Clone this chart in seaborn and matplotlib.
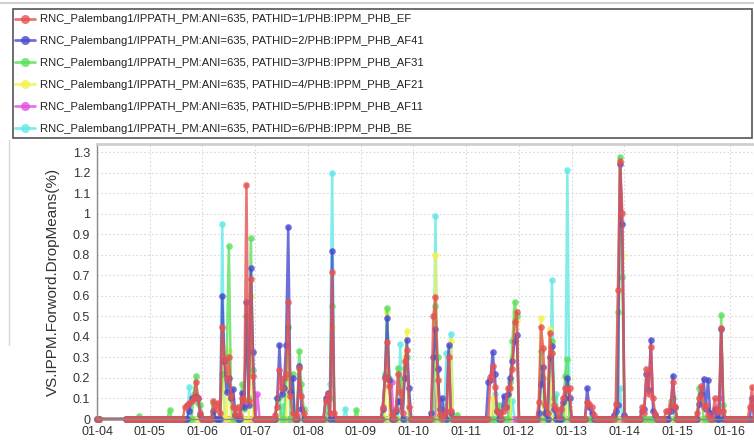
import matplotlib
matplotlib.use("Agg")
import matplotlib.pyplot as plt
import matplotlib.dates as mdates
from matplotlib.lines import Line2D
from matplotlib.patches import Rectangle
from matplotlib.ticker import FuncFormatter, MultipleLocator
import seaborn as sns
import pandas as pd
import numpy as np

# ---------------- data (hours since 01-04 00:00) ----------------
sample_hours = [0, 1] + list(range(13, 300))

series_names = [
    "RNC_Palembang1/IPPATH_PM:ANI=635, PATHID=1/PHB:IPPM_PHB_EF",
    "RNC_Palembang1/IPPATH_PM:ANI=635, PATHID=2/PHB:IPPM_PHB_AF41",
    "RNC_Palembang1/IPPATH_PM:ANI=635, PATHID=3/PHB:IPPM_PHB_AF31",
    "RNC_Palembang1/IPPATH_PM:ANI=635, PATHID=4/PHB:IPPM_PHB_AF21",
    "RNC_Palembang1/IPPATH_PM:ANI=635, PATHID=5/PHB:IPPM_PHB_AF11",
    "RNC_Palembang1/IPPATH_PM:ANI=635, PATHID=6/PHB:IPPM_PHB_BE",
]
series_colors = ["#e65252", "#4a4ad0", "#5ce05c", "#f2f24a", "#e252e2", "#62e8e8"]

# non-zero readings of each series (hour -> value); all other samples read 0
ef_hours = [40, 41, 42, 43, 44, 45, 46, 47, 53, 54, 55, 56, 57, 58, 59, 60, 61, 62, 63, 64, 65,
            66, 67, 68, 69, 70, 71, 81, 82, 83, 84, 85, 86, 87, 88, 89, 91, 92, 93, 94,
            104, 105, 106, 107, 108, 130, 131, 132, 133, 134, 136, 137, 138, 139, 140, 141, 142,
            153, 154, 155, 156, 158, 159, 160, 161, 179, 180, 181, 182, 183, 185, 186, 187, 188,
            189, 190, 191, 201, 202, 203, 204, 205, 206, 207, 208, 209, 210, 211, 212, 213, 214,
            215, 223, 224, 225, 226, 236, 237, 238, 239, 248, 249, 250, 251, 252, 253, 254,
            259, 260, 261, 262, 263, 273, 274, 275, 276, 277, 278, 281, 282, 283, 284, 285, 297, 298]
ef_values = [0.06, 0.07, 0.08, 0.09, 0.10, 0.18, 0.10, 0.03, 0.09, 0.05, 0.08, 0.03, 0.45, 0.29,
             0.195, 0.30, 0.11, 0.06, 0.02, 0.06, 0.02, 0.10, 0.09, 1.14, 0.09, 0.68, 0.21,
             0.02, 0.06, 0.24, 0.15, 0.20, 0.22, 0.57, 0.11, 0.03, 0.02, 0.25, 0.11, 0.03,
             0.09, 0.12, 0.03, 0.715, 0.03, 0.06, 0.20, 0.375, 0.16, 0.02, 0.05, 0.22, 0.13, 0.03,
             0.28, 0.335, 0.06, 0.50, 0.595, 0.19, 0.02, 0.02, 0.04, 0.30, 0.04, 0.205, 0.26,
             0.155, 0.04, 0.03, 0.04, 0.06, 0.15, 0.15, 0.245, 0.47, 0.52, 0.085, 0.45, 0.345,
             0.07, 0.03, 0.42, 0.32, 0.07, 0.05, 0.01, 0.05, 0.10, 0.15, 0.14, 0.15, 0.085, 0.075,
             0.06, 0.02, 0.075, 0.63, 1.258, 1.005, 0.06, 0.03, 0.245, 0.12, 0.35, 0.10, 0.025,
             0.04, 0.04, 0.07, 0.18, 0.06, 0.03, 0.10, 0.16, 0.06, 0.07, 0.02, 0.10, 0.04, 0.04,
             0.445, 0.04, 0.06, 0.155]

af41_hours = [42, 43, 44, 45, 46, 47, 53, 57, 58, 59, 60, 61, 62, 63, 66, 67, 68, 69, 70, 71,
              82, 83, 84, 85, 86, 87, 88, 89, 92, 93, 104, 105, 107, 130, 131, 132, 133, 136, 137,
              138, 140, 141, 142, 152, 153, 154, 155, 156, 157, 158, 160, 161, 178, 179, 180, 181,
              182, 185, 186, 187, 188, 189, 190, 191, 201, 202, 203, 204, 206, 207, 208, 212, 213,
              214, 215, 223, 224, 225, 235, 236, 237, 238, 239, 240, 248, 249, 250, 251, 252, 253,
              254, 261, 262, 263, 274, 275, 276, 277, 278, 279, 281, 284, 298]
af41_values = [0.04, 0.10, 0.10, 0.11, 0.10, 0.02, 0.04, 0.60, 0.28, 0.13, 0.20, 0.10, 0.145, 0.02,
               0.125, 0.06, 0.57, 0.07, 0.735, 0.325, 0.10, 0.36, 0.12, 0.15, 0.36, 0.935, 0.13,
               0.20, 0.26, 0.05, 0.10, 0.125, 0.82, 0.05, 0.205, 0.49, 0.19, 0.04, 0.09, 0.09,
               0.20, 0.385, 0.15, 0.03, 0.30, 0.44, 0.245, 0.05, 0.10, 0.03, 0.36, 0.03, 0.18,
               0.19, 0.325, 0.22, 0.04, 0.11, 0.06, 0.12, 0.20, 0.28, 0.38, 0.41, 0.03, 0.17,
               0.255, 0.03, 0.30, 0.355, 0.05, 0.085, 0.10, 0.20, 0.10, 0.15, 0.06, 0.03, 0.02,
               0.04, 0.07, 1.24, 0.95, 0.02, 0.04, 0.05, 0.22, 0.14, 0.385, 0.04, 0.02, 0.04,
               0.21, 0.06, 0.075, 0.12, 0.195, 0.05, 0.19, 0.03, 0.05, 0.44, 0.10]

af31_hours = [19, 33, 44, 45, 46, 47, 53, 57, 58, 59, 60, 61, 66, 67, 68, 69, 70, 71, 82, 83, 86,
              87, 89, 92, 93, 94, 105, 106, 107, 118, 131, 132, 133, 137, 138, 140, 141, 154, 155,
              164, 183, 188, 189, 190, 191, 202, 203, 206, 207, 208, 213, 214, 237, 238, 239, 261,
              262, 274, 275, 284, 285]
af31_values = [0.015, 0.045, 0.12, 0.21, 0.08, 0.07, 0.08, 0.22, 0.22, 0.30, 0.84, 0.10, 0.17,
               0.05, 0.50, 0.10, 0.88, 0.24, 0.10, 0.10, 0.20, 0.45, 0.22, 0.33, 0.17, 0.05, 0.10,
               0.10, 0.55, 0.045, 0.22, 0.54, 0.20, 0.25, 0.20, 0.25, 0.30, 0.55, 0.30, 0.02,
               0.07, 0.18, 0.38, 0.57, 0.50, 0.33, 0.20, 0.30, 0.38, 0.10, 0.21, 0.29, 0.52,
               1.277, 0.69, 0.09, 0.10, 0.15, 0.12, 0.505, 0.07]

af21_hours = [57, 60, 70, 87, 88, 107, 132, 140, 141, 154, 161, 180, 189, 190, 191, 202, 206,
              214, 238, 239]
af21_values = [0.35, 0.33, 0.60, 0.45, 0.15, 0.45, 0.52, 0.30, 0.43, 0.80, 0.38, 0.10, 0.30,
               0.52, 0.48, 0.49, 0.44, 0.20, 1.25, 0.80]

af11_hours = [73, 134, 155, 283]
af11_values = [0.12, 0.18, 0.25, 0.10]

be_hours = [42, 57, 84, 106, 107, 113, 138, 154, 159, 161, 181, 189, 204, 207, 209, 214, 238]
be_values = [0.155, 0.95, 0.065, 0.17, 1.20, 0.05, 0.365, 0.99, 0.32, 0.415, 0.12, 0.09, 0.10,
             0.675, 0.12, 1.21, 0.15]

series_readings = [(ef_hours, ef_values), (af41_hours, af41_values), (af31_hours, af31_values),
                   (af21_hours, af21_values), (af11_hours, af11_values), (be_hours, be_values)]

# ---------------- build long table ----------------
t0 = pd.Timestamp("2019-01-04 00:00")
rows = []
for name, (hrs, vals) in zip(series_names, series_readings):
    lookup = dict(zip(hrs, vals))
    for h in sample_hours:
        rows.append((name, t0 + pd.Timedelta(hours=h), lookup.get(h, 0.0)))
df = pd.DataFrame(rows, columns=["series", "time", "value"])

# ---------------- figure ----------------
sns.set_theme(style="white")
plt.rcParams["font.family"] = ["Liberation Sans", "DejaVu Sans"]

W, H = 754, 440
fig = plt.figure(figsize=(W / 100, H / 100), dpi=100)
ax_left, ax_right, ax_top, ax_bot = 97, 754, 144, 419
ax = fig.add_axes([ax_left / W, 1 - ax_bot / H, (ax_right - ax_left) / W, (ax_bot - ax_top) / H])

palette = dict(zip(series_names, series_colors))
sns.lineplot(data=df, x="time", y="value", hue="series", hue_order=series_names[::-1],
             palette=palette, marker="o", markersize=4.8, markeredgewidth=0, linewidth=1.8,
             alpha=0.8, estimator=None, errorbar=None, legend=False, ax=ax, clip_on=False)

ax.set_xlim(t0, t0 + pd.Timedelta(days=12.455))
ax.set_ylim(0, 1.339)
ax.yaxis.set_major_locator(MultipleLocator(0.1))
ax.yaxis.set_major_formatter(FuncFormatter(lambda v, p: f"{round(v, 2):g}"))
ax.xaxis.set_major_locator(mdates.DayLocator())
ax.xaxis.set_major_formatter(mdates.DateFormatter("%m-%d"))

ax.grid(True, color="#d8d8d8", linestyle=(0, (1.5, 2)), linewidth=0.8)
ax.set_axisbelow(True)
for s in ["left", "bottom"]:
    ax.spines[s].set_color("#8a8a8a")
    ax.spines[s].set_linewidth(1.0)
ax.spines["top"].set_color("#cfcfcf")
ax.spines["top"].set_linewidth(2.0)
ax.spines["right"].set_visible(False)

ax.tick_params(axis="both", labelsize=9, colors="#333333", length=2, pad=3)
ax.set_xlabel("")
ax.set_ylabel("VS.IPPM.Forword.DropMeans(%)", fontsize=11, color="#333333")
ax.yaxis.set_label_coords((60 - ax_left) / (ax_right - ax_left), 0.5)

# legend box (drawn separately) and frameless legend inside it
fig.add_artist(Rectangle((13 / W, 1 - 138 / H), (752 - 13) / W, (138 - 9) / H,
                         transform=fig.transFigure, facecolor="white",
                         edgecolor="#555555", linewidth=1.2, zorder=1))
handles = [Line2D([0], [0], color=c, marker="o", markersize=6.5, markeredgewidth=0,
                  linewidth=2.0, alpha=0.8) for c in series_colors]
leg = fig.legend(handles, series_names, loc="upper left",
                 bbox_to_anchor=(15 / W, 1 - 14.5 / H), borderaxespad=0, frameon=False,
                 fontsize=8.1, handlelength=1.78, handletextpad=0.4, labelspacing=1.05,
                 borderpad=0)
leg.set_zorder(2)
for t in leg.get_texts():
    t.set_color("#222222")

# window chrome lines
fig.add_artist(Line2D([0, 1], [1 - 3 / H, 1 - 3 / H], color="#d0d0d0", linewidth=1.5))
fig.add_artist(Line2D([9 / W, 9 / W], [1 - 140 / H, 1 - 345 / H], color="#d8d8d8", linewidth=1.0))

fig.savefig("out.png", dpi=100)
